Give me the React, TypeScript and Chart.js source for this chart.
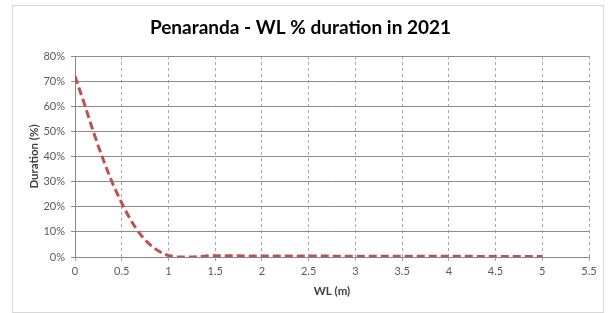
import React, { useEffect, useRef } from "react";
import { Chart, registerables } from "chart.js";

Chart.register(...registerables);

const TITLE = "Penaranda - WL % duration in 2021";
const X_TITLE = "WL (m)";
const Y_TITLE = "Duration (%)";

const wlValues = [0, 0.1, 0.2, 0.3, 0.4, 0.5, 0.6, 0.7, 0.8, 0.9, 1.0, 1.1, 1.2, 1.3, 1.4, 1.5, 2.0, 2.5, 3.0, 3.5, 4.0, 4.5, 5.0];
const durationValues = [72, 61, 49.5, 39, 29.5, 21.5, 14.5, 9, 5, 2.3, 0.6, 0, 0, 0.1, 0.4, 0.5, 0.4, 0.4, 0.3, 0.3, 0.3, 0.2, 0.2];

const X_MIN = 0;
const X_MAX = 5.5;
const X_STEP = 0.5;
const Y_MIN = 0;
const Y_MAX = 80;
const Y_STEP = 10;

const FONT = "Lato, 'Open Sans', sans-serif";

export default function App() {
  const ref = useRef<HTMLCanvasElement | null>(null);

  useEffect(() => {
    if (!ref.current) return;
    const points = wlValues.map((x, i) => ({ x, y: durationValues[i] }));
    const chart = new Chart(ref.current, {
      type: "scatter",
      data: {
        datasets: [
          {
            data: points,
            showLine: true,
            borderColor: "#c0504d",
            borderWidth: 3,
            borderDash: [8, 4],
            pointRadius: 0,
            cubicInterpolationMode: "monotone",
            fill: false,
          },
        ],
      },
      options: {
        responsive: false,
        animation: false,
        layout: { padding: { left: 12, right: 21, top: 0, bottom: 0 } },
        plugins: {
          legend: { display: false },
          tooltip: { enabled: false },
          title: {
            display: true,
            text: TITLE,
            color: "#000000",
            font: { family: FONT, size: 19, weight: "bold" },
            padding: { top: 16, bottom: 17.2 },
          },
        },
        scales: {
          x: {
            type: "linear",
            min: X_MIN,
            max: X_MAX,
            afterFit: (s: any) => {
              s.height = 56;
            },
            ticks: {
              stepSize: X_STEP,
              color: "#595959",
              font: { family: FONT, size: 11 },
              padding: 4,
              maxRotation: 0,
              callback: (v: any) => String(Math.round(Number(v) * 10) / 10),
            },
            grid: {
              color: "#a8a8a8",
              lineWidth: 1,
              tickLength: 4,
            },
            border: { display: true, color: "#868686", dash: [3, 3] },
            title: {
              display: true,
              text: X_TITLE,
              color: "#404040",
              font: { family: FONT, size: 11.5, weight: "bold" },
              padding: { top: 0, bottom: 15 },
            },
          },
          y: {
            type: "linear",
            min: Y_MIN,
            max: Y_MAX,
            afterFit: (s: any) => {
              s.width = 63;
            },
            ticks: {
              stepSize: Y_STEP,
              color: "#595959",
              font: { family: FONT, size: 11 },
              padding: 6,
              callback: (v: any) => v + "%",
            },
            grid: {
              color: "#8c8c8c",
              lineWidth: 1,
              tickLength: 4,
            },
            border: { display: true, color: "#868686" },
            title: {
              display: true,
              text: Y_TITLE,
              color: "#404040",
              font: { family: FONT, size: 11.5, weight: "bold" },
              padding: { top: 15, bottom: 0 },
            },
          },
        },
      },
    });
    return () => chart.destroy();
  }, []);

  return (
    <div style={{ position: "absolute", left: 0, top: 0, width: 610, height: 313, background: "#ffffff" }}>
      <div
        style={{
          position: "absolute",
          left: 12,
          top: 5,
          width: 590,
          height: 306,
          border: "1px solid #d9d9d9",
          boxSizing: "content-box",
        }}
      />
      <canvas ref={ref} width={610} height={313} style={{ position: "absolute", left: 0, top: 0, width: 610, height: 313 }} />
    </div>
  );
}
